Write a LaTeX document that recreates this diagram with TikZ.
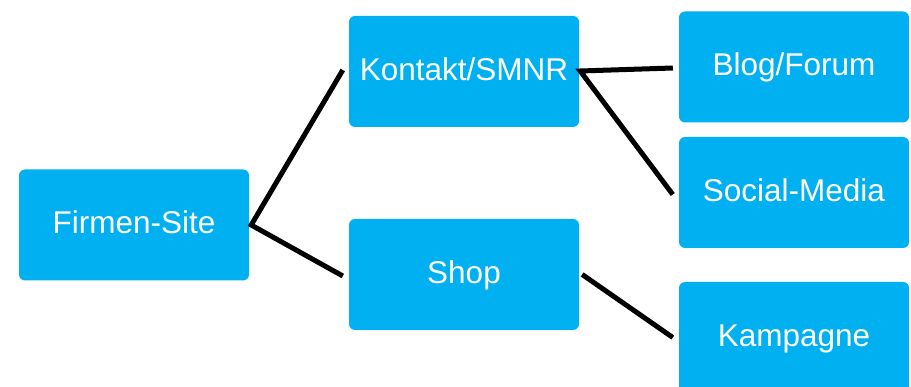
\documentclass[tikz,border=0pt]{standalone}
\usepackage{fontspec}
\setmainfont{Liberation Sans}
\definecolor{boxblue}{HTML}{00B0F0}
\begin{document}
\begin{tikzpicture}[x=1pt,y=-1pt,
  box/.style={fill=boxblue, draw=none, rounded corners=6pt,
    minimum width=230pt, minimum height=111pt, inner sep=0pt,
    text height=23pt, text depth=5pt,
    text=white, font=\fontsize{31.5}{38}\selectfont},
  link/.style={line width=5pt, draw=black, line join=miter}]
  \useasboundingbox (0,0) rectangle (911,387);
  \clip (0,0) rectangle (911,387);

  % boxes
  \node[box] (firmen)  at (134,225)   {Firmen-Site};
  \node[box] (kontakt) at (464,71.5)  {Kontakt/SMNR};
  \node[box] (shop)    at (464,274.5) {Shop};
  \node[box] (blog)    at (794,67)    {Blog/Forum};
  \node[box] (social)  at (794,192.5) {Social-Media};
  \node[box] (kampagne) at (794,337.5) {Kampagne};

  % connectors
  \draw[link] ([xshift=-6pt,yshift=1.5pt]kontakt.west)
           -- ([xshift=2pt]firmen.east)
           -- ([xshift=-6pt,yshift=-1.5pt]shop.west);
  \draw[link] ([xshift=-6pt,yshift=-1pt]blog.west)
           -- ([xshift=1pt,yshift=0.5pt]kontakt.east)
           -- ([xshift=-6pt,yshift=-2pt]social.west);
  \draw[link] ([xshift=3pt]shop.east)
           -- ([xshift=-6pt]kampagne.west);
\end{tikzpicture}
\end{document}
